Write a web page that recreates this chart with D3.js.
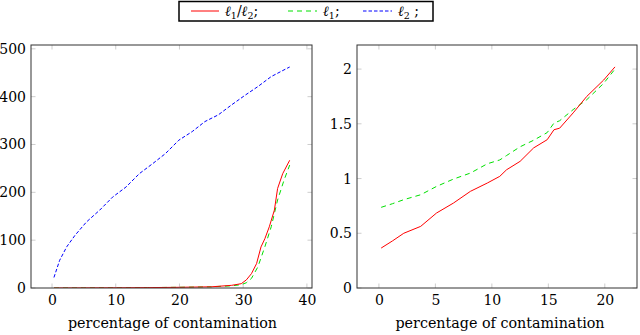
<!DOCTYPE html>
<html>
<head>
<meta charset="utf-8">
<script src="https://cdn.jsdelivr.net/npm/d3@7"></script>
<style>
  body { margin: 0; background: #fff; }
</style>
</head>
<body>
<svg width="640" height="335"></svg>
<script>
// left panel: l2 curve and l1/l2, l1 curves
const leftX_l2 = [0.3, 1.2, 2.3, 3.6, 5.4, 7.5, 9.5, 11.6, 13.7, 15.8, 17.8, 19.9, 22.0, 24.0, 26.1, 28.2, 30.3, 32.3, 34.4, 36.7, 37.3]
const leftY_l2 = [22, 58, 86, 110, 138, 163, 190, 211, 239, 260, 281, 309, 327, 348, 362, 383, 403, 421, 442, 458, 462]

const leftX_ratio = [0.3, 5, 10, 15, 20, 25, 28.2, 29.7, 30.5, 31.3, 32.1, 32.8, 33.4, 34.1, 34.9, 35.4, 36.2, 37.3]
const leftY_ratio = [0, 0.2, 0.4, 0.8, 1.5, 2.5, 5.6, 9, 17, 30, 51, 86, 103, 128, 163, 208, 239, 267]

const leftX_l1 = [0.3, 5, 10, 15, 20, 25, 28.2, 29.7, 30.5, 31.3, 32.3, 33.4, 34.4, 35.4, 36.4, 37.3]
const leftY_l1 = [0, 0.2, 0.4, 0.8, 1.5, 2.5, 4.5, 7, 11, 20, 44, 86, 128, 184, 225, 257]

// right panel
const rightX = [0.2, 1.2, 2.2, 3.7, 5.1, 6.6, 8.1, 9.6, 10.7, 11.3, 12.5, 13.7, 14.9, 15.5, 16.0, 17.2, 18.4, 19.9, 20.9]
const rightY_ratio = [0.365, 0.43, 0.50, 0.563, 0.685, 0.776, 0.883, 0.959, 1.02, 1.08, 1.157, 1.28, 1.355, 1.446, 1.46, 1.60, 1.75, 1.90, 2.02]
const rightY_l1 = [0.737, 0.77, 0.807, 0.852, 0.928, 0.995, 1.05, 1.135, 1.17, 1.21, 1.29, 1.35, 1.42, 1.507, 1.528, 1.63, 1.72, 1.87, 2.0]

const leftTicksX = [0, 10, 20, 30, 40]
const leftTicksY = [0, 100, 200, 300, 400, 500]
const rightTicksX = [0, 5, 10, 15, 20]
const rightTicksY = [0, 0.5, 1, 1.5, 2]

const xLabel = 'percentage of contamination'
const FONT = 'DejaVu Serif'

const svg = d3.select('svg')

function zip(xs, ys) { return xs.map((x, i) => [x, ys[i]]) }

function drawPanel(box, xDomain, yDomain, xTicks, yTicks, yFmt, series) {
  const x = d3.scaleLinear().domain(xDomain).range([box.left, box.right])
  const y = d3.scaleLinear().domain(yDomain).range([box.bottom, box.top])
  const g = svg.append('g')

  // inner tick marks (pgfplots style, on all four sides)
  const tickLen = 4.5
  xTicks.forEach(t => {
    g.append('line').attr('x1', x(t)).attr('x2', x(t)).attr('y1', box.bottom).attr('y2', box.bottom - tickLen)
      .attr('stroke', '#c0c0c0').attr('stroke-width', 0.8)
    g.append('line').attr('x1', x(t)).attr('x2', x(t)).attr('y1', box.top).attr('y2', box.top + tickLen)
      .attr('stroke', '#c0c0c0').attr('stroke-width', 0.8)
  })
  yTicks.forEach(t => {
    g.append('line').attr('y1', y(t)).attr('y2', y(t)).attr('x1', box.left).attr('x2', box.left + tickLen)
      .attr('stroke', '#c0c0c0').attr('stroke-width', 0.8)
    g.append('line').attr('y1', y(t)).attr('y2', y(t)).attr('x1', box.right).attr('x2', box.right - tickLen)
      .attr('stroke', '#c0c0c0').attr('stroke-width', 0.8)
  })

  // axes via d3 axis for labels
  const xAxis = d3.axisBottom(x).tickValues(xTicks).tickSize(0).tickPadding(7).tickFormat(d3.format('d'))
  const yAxis = d3.axisLeft(y).tickValues(yTicks).tickSize(0).tickPadding(5).tickFormat(yFmt)
  const gx = g.append('g').attr('transform', `translate(0,${box.bottom})`).call(xAxis)
  const gy = g.append('g').attr('transform', `translate(${box.left},0)`).call(yAxis)
  ;[gx, gy].forEach(a => {
    a.attr('font-family', FONT).attr('font-size', 14)
    a.select('.domain').remove()
    a.selectAll('text').attr('fill', '#000').style('font-family', FONT)
  })

  const clipId = 'clip' + Math.round(box.left)
  g.append('clipPath').attr('id', clipId).append('rect')
    .attr('x', box.left).attr('y', box.top).attr('width', box.right - box.left).attr('height', box.bottom - box.top)

  const line = d3.line().x(d => x(d[0])).y(d => y(d[1]))
  series.forEach(s => {
    g.append('path').datum(s.data).attr('d', line).attr('clip-path', `url(#${clipId})`)
      .attr('fill', 'none').attr('stroke', s.color).attr('stroke-width', 1)
      .attr('stroke-dasharray', s.dash || null)
  })

  g.append('rect').attr('x', box.left).attr('y', box.top)
    .attr('width', box.right - box.left).attr('height', box.bottom - box.top)
    .attr('fill', 'none').attr('stroke', '#333').attr('stroke-width', 1)

  g.append('text').attr('x', (box.left + box.right) / 2 + box.shift).attr('y', 328)
    .attr('text-anchor', 'middle').style('font-family', FONT).attr('font-size', 14.3).text(xLabel)
}

drawPanel({ left: 31, right: 312, top: 45, bottom: 288, shift: 1 }, [-3.3, 40.8], [0, 508],
  leftTicksX, leftTicksY, d3.format('d'), [
    { data: zip(leftX_l2, leftY_l2), color: '#0000ff', dash: '3.5,2' },
    { data: zip(leftX_l1, leftY_l1), color: '#00e000', dash: '5,4' },
    { data: zip(leftX_ratio, leftY_ratio), color: '#ff0000' }
  ])

drawPanel({ left: 357, right: 637, top: 45, bottom: 288, shift: 3 }, [-1.94, 22.85], [0, 2.22],
  rightTicksX, rightTicksY, d => String(d), [
    { data: zip(rightX, rightY_l1), color: '#00e000', dash: '5,4' },
    { data: zip(rightX, rightY_ratio), color: '#ff0000' }
  ])

// legend
const legend = svg.append('g').style('font-family', FONT)
legend.append('rect').attr('x', 179).attr('y', 1.5).attr('width', 254).attr('height', 19.5)
  .attr('fill', '#fff').attr('stroke', '#000').attr('stroke-width', 1.5)
const legendItems = [
  { x1: 191, x2: 219, tx: 225, color: '#ff0000', dash: null, sub: ['1', '/', '2', ';'] },
  { x1: 288, x2: 317, tx: 323, color: '#00e000', dash: '5,4', sub: ['1', '', '', ';'] },
  { x1: 363, x2: 392, tx: 398, color: '#0000ff', dash: '3.5,2', sub: ['2', '', '', ' ;'] }
]
legendItems.forEach(it => {
  legend.append('line').attr('x1', it.x1).attr('x2', it.x2).attr('y1', 11).attr('y2', 11)
    .attr('stroke', it.color).attr('stroke-width', 1).attr('stroke-dasharray', it.dash)
  const t = legend.append('text').attr('x', it.tx).attr('y', 16).attr('font-size', 14)
    .style('white-space', 'pre').style('font-family', FONT)
  t.append('tspan').attr('font-style', 'italic').text('ℓ')
  t.append('tspan').attr('font-size', 9.5).attr('dy', 3).text(it.sub[0])
  if (it.sub[1]) {
    t.append('tspan').attr('dy', -3).text('/')
    t.append('tspan').attr('font-style', 'italic').text('ℓ')
    t.append('tspan').attr('font-size', 9.5).attr('dy', 3).text(it.sub[2])
  }
  t.append('tspan').attr('dy', -3).text(it.sub[3])
})
</script>
</body>
</html>
